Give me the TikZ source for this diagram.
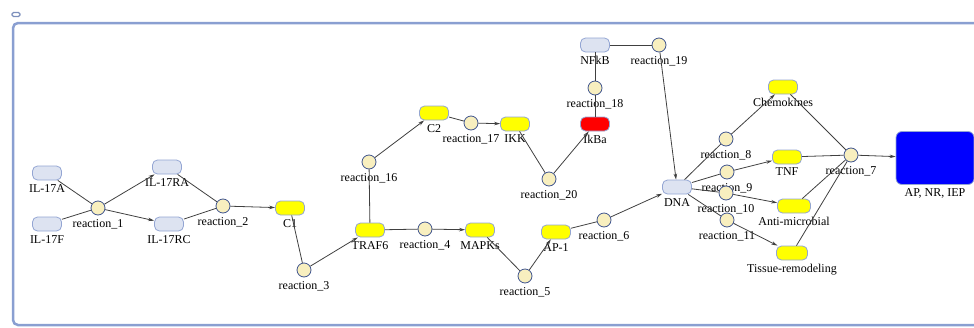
\documentclass[tikz,border=0pt]{standalone}
\usepackage{fontspec}
\setmainfont{Liberation Serif}
\usepackage{xcolor}
\usetikzlibrary{arrows.meta,positioning}
\definecolor{framec}{HTML}{8A9FD1}
\definecolor{spedge}{HTML}{93A5D3}
\definecolor{gene}{HTML}{DDE3F1}
\definecolor{prot}{HTML}{FFFF00}
\definecolor{rxfill}{HTML}{F8EFBF}
\definecolor{rxedge}{HTML}{40558F}
\definecolor{linkc}{HTML}{404040}

\begin{document}
\begin{tikzpicture}[x=1pt,y=-1pt,
  lbl/.style={font=\fontsize{12}{13}\selectfont,inner sep=1pt,label distance=2.5pt},
  sp/.style={draw=spedge,line width=0.8pt,rounded corners=5pt,minimum width=29pt,
             minimum height=14pt,inner sep=0pt,fill=#1},
  sp/.default=gene,
  rx/.style={circle,draw=rxedge,line width=0.8pt,fill=rxfill,minimum size=14pt,inner sep=0pt},
  link/.style={draw=linkc,line width=0.8pt},
  flow/.style={link,-{Stealth[length=6pt,width=3.5pt]}}]
  \useasboundingbox (0,0) rectangle (974,327);
  \draw[framec,line width=2.5pt,rounded corners=5pt] (985,23) -- (13,23) -- (13,325) -- (985,325);
  \draw[framec!90!black,line width=1.1pt,rounded corners=1.5pt] (12,12.5) rectangle (20,16.5);
  % receptors
  \node[sp,label={[lbl]below:IL-17A}] (il17a) at (47,173) {};
  \node[sp,label={[lbl]below:IL-17F}] (il17f) at (47,224) {};
  \node[rx,label={[lbl]below:reaction\_1}] (r1) at (98,208) {};
  \node[sp,label={[lbl]below:IL-17RA}] (il17ra) at (167,167) {};
  \node[sp,label={[lbl]below:IL-17RC}] (il17rc) at (169,224) {};
  \node[rx,label={[lbl]below:reaction\_2}] (r2) at (223,206) {};
  \node[sp=prot,label={[lbl]below:C1}] (c1) at (290,208) {};
  \node[rx,label={[lbl]below:reaction\_3}] (r3) at (304,270) {};
  % signalling
  \node[sp=prot,label={[lbl]below:TRAF6}] (traf6) at (370,230) {};
  \node[rx,label={[lbl]below:reaction\_4}] (r4) at (425,229) {};
  \node[sp=prot,label={[lbl]below:MAPKs}] (mapks) at (480,230) {};
  \node[rx,label={[lbl]below:reaction\_5}] (r5) at (525,276) {};
  \node[sp=prot,label={[lbl]below:AP-1}] (ap1) at (556,232) {};
  \node[rx,label={[lbl]below:reaction\_6}] (r6) at (604,220) {};
  \node[rx,label={[lbl]below:reaction\_16}] (r16) at (369,162) {};
  \node[sp=prot,label={[lbl]below:C2}] (c2) at (434,113) {};
  \node[rx,label={[lbl]below:reaction\_17}] (r17) at (471,123) {};
  \node[sp=prot,label={[lbl]below:IKK}] (ikk) at (515,124) {};
  \node[rx,label={[lbl]below:reaction\_20}] (r20) at (549,179) {};
  \node[sp=red,label={[lbl]below:IkBa}] (ikba) at (595,124) {};
  \node[rx,label={[lbl]below:reaction\_18}] (r18) at (595,88) {};
  \node[sp,label={[lbl]below:NFkB}] (nfkb) at (595,45) {};
  \node[rx,label={[lbl]below:reaction\_19}] (r19) at (659,45) {};
  % transcription
  \node[sp,label={[lbl]below:DNA}] (dna) at (677,187) {};
  \node[rx,label={[lbl]below:reaction\_8}] (r8) at (726,139) {};
  \node[rx,label={[lbl]below:reaction\_9}] (r9) at (727,172) {};
  \node[rx,label={[lbl]below:reaction\_10}] (r10) at (726,193) {};
  \node[rx,label={[lbl]below:reaction\_11}] (r11) at (727,220) {};
  \node[sp=prot,label={[lbl]below:Chemokines}] (chemo) at (783,87) {};
  \node[sp=prot,label={[lbl]below:TNF}] (tnf) at (787,157) {};
  \node[sp=prot,minimum width=33pt,label={[lbl]below:Anti-microbial}] (antim) at (794,206) {};
  \node[sp=prot,minimum width=31pt,label={[lbl]below:Tissue-remodeling}] (tissue) at (792,253) {};
  \node[rx,label={[lbl]below:reaction\_7}] (r7) at (851,155) {};
  \node[sp=blue,rounded corners=6pt,minimum width=78pt,minimum height=53pt,
        label={[lbl]below:{AP, NR, IEP}}] (apnr) at (935,158) {};
  \foreach \a/\b in {il17a/r1,il17f/r1,il17ra/r2,il17rc/r2,c1/r3,traf6/r4,traf6/r16,c2/r17,
                     ikk/r20,ikba/r18,r18/nfkb,nfkb/r19,mapks/r5,ap1/r6,dna/r8,dna/r9,dna/r10,
                     dna/r11,chemo/r7,tnf/r7,antim/r7,tissue/r7}
    \path[link] (\a) -- (\b);
  \foreach \a/\b in {r1/il17ra,r1/il17rc,r2/c1,r3/traf6,r4/mapks,r16/c2,r17/ikk,r20/ikba,
                     r19/dna,r5/ap1,r6/dna,r8/chemo,r9/tnf,r10/antim,r11/tissue,r7/apnr}
    \path[flow] (\a) -- (\b);
\end{tikzpicture}
\end{document}
